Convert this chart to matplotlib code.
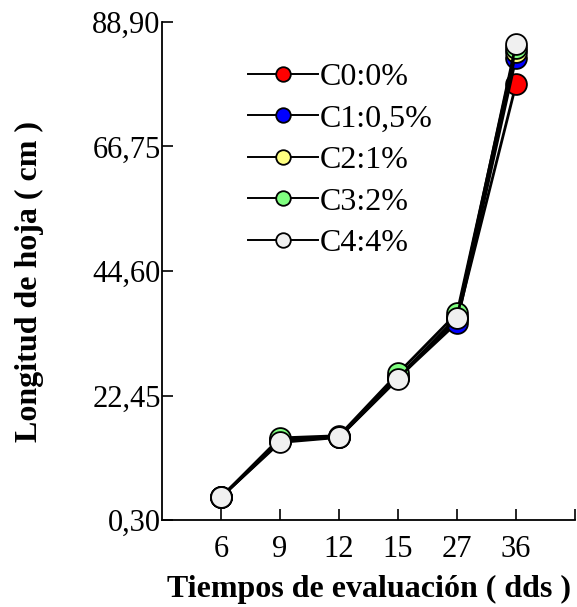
import numpy as np
import matplotlib.pyplot as plt

# datos (longitud de hoja, cm)
tiempos = ['6', '9', '12', '15', '27', '36']
c0 = [4.4, 14.3, 15.1, 25.6, 36.0, 77.8]
c1 = [4.4, 14.4, 15.1, 25.6, 35.4, 82.5]
c2 = [4.4, 14.5, 15.1, 25.7, 36.4, 83.5]
c3 = [4.4, 14.9, 15.3, 26.4, 37.1, 84.3]
c4 = [4.4, 14.1, 15.0, 25.4, 36.3, 85.0]
series = [c0, c1, c2, c3, c4]
etiquetas = ['C0:0%', 'C1:0,5%', 'C2:1%', 'C3:2%', 'C4:4%']
colores = ['#ff0000', '#0000ff', '#ffff80', '#80ff80', '#f0f0f0']
yticks = [0.30, 22.45, 44.60, 66.75, 88.90]

plt.rcParams['font.family'] = ['Liberation Serif', 'DejaVu Serif']

fig = plt.figure(figsize=(5.77, 6.07), dpi=100)
ax = fig.add_axes([0.281, 0.1433, 0.7155, 0.8205])

x = np.arange(len(tiempos))
for vals, lab, col in zip(series, etiquetas, colores):
    ax.plot(x, vals, color='black', linewidth=2.0, marker='o', markersize=15,
            markerfacecolor=col, markeredgecolor='black', markeredgewidth=1.3,
            label=lab)

ax.set_xlim(-1, 6)
ax.set_ylim(0.30, 88.90)
ax.set_xticks(list(x) + [6])
ax.set_xticklabels(tiempos + [''])
ax.set_yticks(yticks)
ax.set_yticklabels([f'{v:.2f}'.replace('.', ',') for v in yticks])
ax.tick_params(direction='in', length=8, width=1.2, labelsize=22)
ax.tick_params(axis='x', pad=11)
ax.tick_params(axis='y', pad=1)
ax.spines['top'].set_visible(False)
ax.spines['right'].set_visible(False)
for s in ['left', 'bottom']:
    ax.spines[s].set_linewidth(1.3)

ax.set_xlabel('Tiempos de evaluación ( dds )', fontsize=23, fontweight='bold', labelpad=8)
ax.set_ylabel('Longitud de hoja ( cm )', fontsize=23, fontweight='bold', va='center')
ax.yaxis.set_label_coords(-0.322, 0.478)

leg = ax.legend(loc='upper left', bbox_to_anchor=(0.402, 0.923), bbox_transform=fig.transFigure,
                frameon=False, fontsize=23, handlelength=2.2, handletextpad=0.05,
                labelspacing=0.38, markerscale=0.7, borderpad=0)
for ln in leg.get_lines():
    ln.set_linewidth(1.4)

fig.savefig('out.png', dpi=100)
